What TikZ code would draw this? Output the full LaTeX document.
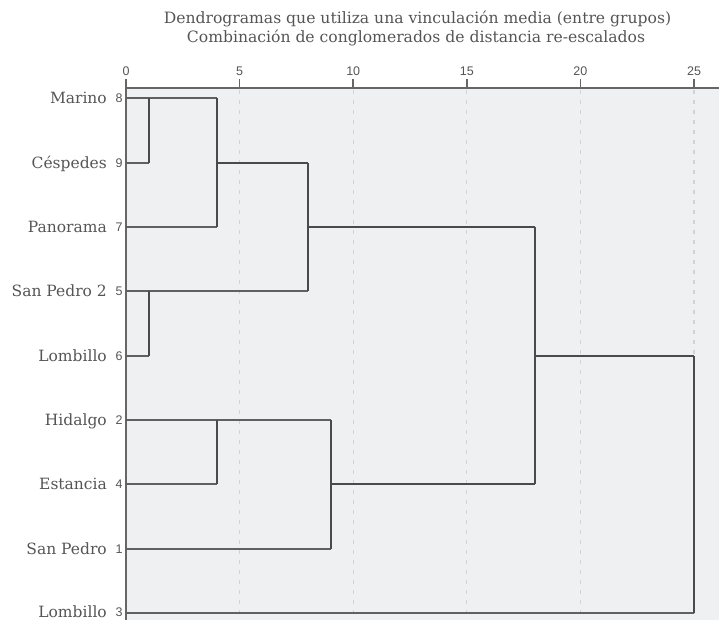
\documentclass[tikz,border=0pt]{standalone}
\usepackage{fontspec}
\setmainfont{DejaVu Serif}
\newfontfamily\numfont{Liberation Sans}
\definecolor{bgc}{HTML}{EFF0F2}
\definecolor{txt}{HTML}{555555}
\definecolor{linec}{HTML}{4A4A4A}
\definecolor{leafc}{HTML}{606060}
\definecolor{axisc}{HTML}{666666}
\definecolor{gridc}{HTML}{D2D3D6}
\tikzset{
  titletext/.style={text=txt, font=\fontsize{15.6}{18}\selectfont, inner sep=0pt},
  lab/.style={text=txt, font=\fontsize{15.5}{18}\selectfont, inner sep=0pt, anchor=base east},
  num/.style={text=txt, font=\numfont\fontsize{12.5}{14}\selectfont, inner sep=0pt},
  merge/.style={draw=linec, line width=2pt},
  leaf/.style={draw=leafc, line width=2pt},
  gridline/.style={draw=gridc, line width=1.2pt, dash pattern=on 4pt off 6pt},
  axisline/.style={draw=axisc, line width=2pt},
}
\begin{document}
\begin{tikzpicture}[x=1pt,y=-1pt]
\useasboundingbox (0,0) rectangle (719,620);
\fill[bgc] (126,88) rectangle (719,620);
% grid lines
\foreach \v in {5,10,15,20,25}{
  \pgfmathsetmacro{\xx}{126+22.72*\v}
  \draw[gridline] (\xx,90) -- (\xx,620);
}
% title
\node[titletext, anchor=base] (t1) at (417.5,24) {Dendrogramas que utiliza una vinculación media (entre grupos)};
\node[titletext, anchor=base] (t2) at (416,42.7) {Combinación de conglomerados de distancia re-escalados};
% axis
\draw[axisline] (126,88) -- (719,88);
\draw[axisline, line width=2.5pt] (126,87) -- (126,620);
\foreach \v in {0,5,10,15,20,25}{
  \pgfmathsetmacro{\xx}{126+22.72*\v}
  \draw[axisline, line width=1.6pt] (\xx,79) -- (\xx,88);
  \node[num] (ax\v) at (\xx,71) {\v};
}
% leaves
\coordinate (leaf8) at (126,98);
\coordinate (leaf9) at (126,163);
\coordinate (leaf7) at (126,227);
\coordinate (leaf5) at (126,291);
\coordinate (leaf6) at (126,356);
\coordinate (leaf2) at (126,420);
\coordinate (leaf4) at (126,484);
\coordinate (leaf1) at (126,549);
\coordinate (leaf3) at (126,613);
% labels
\node[lab] (lMarino) at (107,104) {Marino};
\node[lab] (lCesp) at (107,168.5) {Céspedes};
\node[lab] (lPano) at (107,232.5) {Panorama};
\node[lab] (lSP2) at (107,296.5) {San Pedro 2};
\node[lab] (lLomb6) at (107,361.5) {Lombillo};
\node[lab] (lHid) at (107,425.5) {Hidalgo};
\node[lab] (lEst) at (107,489.5) {Estancia};
\node[lab] (lSP) at (107,554.5) {San Pedro};
\node[lab] (lLomb3) at (107,617.4) {Lombillo};
\node[num] (n8) at (119,98) {8};
\node[num] (n9) at (119,163) {9};
\node[num] (n7) at (119,227) {7};
\node[num] (n5) at (119,291) {5};
\node[num] (n6) at (119,356) {6};
\node[num] (n2) at (119,420) {2};
\node[num] (n4) at (119,484) {4};
\node[num] (n1) at (119,549) {1};
\node[num] (n3) at (119,612.4) {3};
% merge points
\coordinate (m89t) at (149,98);    \coordinate (m89b) at (149,163);
\coordinate (m897t) at (217,98);   \coordinate (m897b) at (217,227);
\coordinate (m56t) at (149,291);   \coordinate (m56b) at (149,356);
\coordinate (mAt) at (308,163);    \coordinate (mAb) at (308,291);
\coordinate (m24t) at (217,420);   \coordinate (m24b) at (217,484);
\coordinate (m241t) at (331,420);  \coordinate (m241b) at (331,549);
\coordinate (mBt) at (535,227);    \coordinate (mBb) at (535,484);
\coordinate (mCt) at (694,356);    \coordinate (mCb) at (694,613);
% leaf segments
\draw[leaf] (leaf8) -- (m897t);
\draw[leaf] (leaf9) -- (m89b);
\draw[leaf] (leaf7) -- (m897b);
\draw[leaf] (leaf5) -- (mAb);
\draw[leaf] (leaf6) -- (m56b);
\draw[leaf] (leaf2) -- (m241t);
\draw[leaf] (leaf4) -- (m24b);
\draw[leaf] (leaf1) -- (m241b);
\draw[leaf] (leaf3) -- (mCb);
% cluster segments
\draw[merge] (m89t) -- (m89b);
\draw[merge] (m897t) -- (m897b);
\draw[merge] (m56t) -- (m56b);
\draw[merge] (m897t |- mAt) -- (mAt);
\draw[merge] (mAt) -- (mAb);
\draw[merge] (m24t) -- (m24b);
\draw[merge] (m241t) -- (m241b);
\draw[merge] (mAt |- mBt) -- (mBt);
\draw[merge] (m241t |- mBb) -- (mBb);
\draw[merge] (mBt) -- (mBb);
\draw[merge] (mBt |- mCt) -- (mCt);
\draw[merge] (mCt) -- (mCb);
\end{tikzpicture}
\end{document}
